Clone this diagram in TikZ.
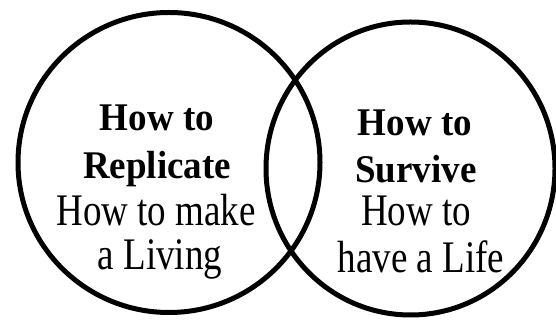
\documentclass[tikz,border=0pt]{standalone}
\usepackage{fontspec}
\setmainfont{Liberation Serif}
\usepackage{graphicx}
\usepackage{tikz}
\usetikzlibrary{positioning}
\newcommand{\tallbody}[1]{\scalebox{1}[1.22]{#1}}
\newcommand{\tallhead}[1]{\scalebox{1}[1.06]{#1}}

\begin{document}
\begin{tikzpicture}[
  x=1pt,y=1pt,
  ring/.style={draw=black,line width=5pt},
  head/.style={anchor=base,inner sep=0pt,font=\fontsize{37}{46}\selectfont\bfseries},
  body/.style={anchor=base,inner sep=0pt,font=\fontsize{37}{46}\selectfont}
]
\useasboundingbox (0,0) rectangle (556,323);
\draw[ring] (169,160.5) ellipse [x radius=151,y radius=150];
\draw[ring] (410.5,154.5) ellipse [x radius=144.5,y radius=146.5];
\node[head] (rephow) at (157,192) {\tallhead{How to}};
\node[head] (rep) at (157,144) {\tallhead{Replicate}};
\node[body] (livhow) at (156,97) {\tallbody{How to make}};
\node[body] (liv) at (160,53) {\tallbody{a Living}};
\node[head] (surhow) at (415,187) {\tallhead{How to}};
\node[head] (sur) at (416,140) {\tallhead{Survive}};
\node[body] (lifehow) at (416,97) {\tallbody{How to}};
\node[body] (life) at (421,50) {\tallbody{have a Life}};
\end{tikzpicture}
\end{document}
